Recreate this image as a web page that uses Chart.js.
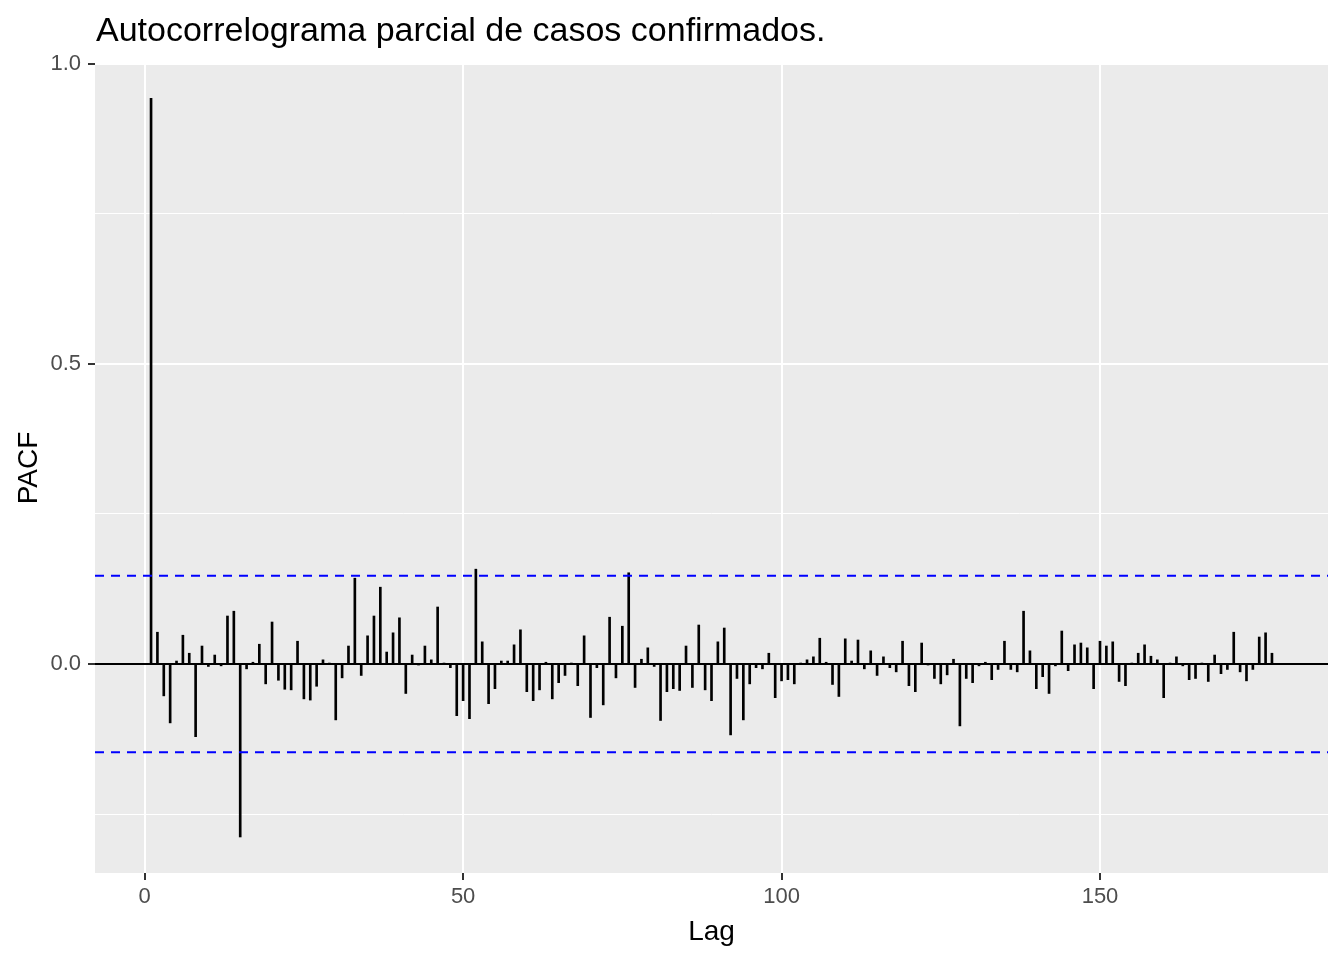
<!DOCTYPE html>
<html>
<head>
<meta charset="utf-8">
<script src="https://cdn.jsdelivr.net/npm/chart.js@4.4.1/dist/chart.umd.min.js"></script>
<style>
  html, body { margin: 0; padding: 0; background: #fff; }
  canvas { display: block; }
</style>
</head>
<body>
<canvas id="pacf" width="1344" height="960"></canvas>
<script>
// partial autocorrelation by lag (lag 1 .. 177)
const pacf = [
  0.942, 0.053, -0.053, -0.098, 0.005, 0.048, 0.018, -0.121, 0.030, -0.004,
  0.015, -0.003, 0.080, 0.088, -0.288, -0.008, 0.003, 0.033, -0.033, 0.070,
  -0.027, -0.042, -0.043, 0.038, -0.058, -0.060, -0.037, 0.007, 0.001, -0.093,
  -0.023, 0.030, 0.143, -0.019, 0.047, 0.080, 0.128, 0.020, 0.052, 0.077,
  -0.049, 0.015, -0.001, 0.030, 0.007, 0.095, 0.001, -0.006, -0.086, -0.061,
  -0.091, 0.158, 0.037, -0.066, -0.041, 0.005, 0.005, 0.032, 0.057, -0.046,
  -0.061, -0.043, 0.003, -0.058, -0.031, -0.019, 0.001, -0.036, 0.047, -0.089,
  -0.006, -0.068, 0.078, -0.023, 0.063, 0.152, -0.039, 0.008, 0.027, -0.004,
  -0.094, -0.046, -0.041, -0.044, 0.030, -0.039, 0.065, -0.043, -0.061, 0.037,
  0.060, -0.118, -0.024, -0.093, -0.033, -0.006, -0.008, 0.018, -0.056, -0.028,
  -0.026, -0.033, 0.001, 0.007, 0.012, 0.043, 0.003, -0.034, -0.054, 0.042,
  0.005, 0.040, -0.008, 0.022, -0.019, 0.012, -0.006, -0.013, 0.038, -0.036,
  -0.046, 0.035, -0.001, -0.024, -0.033, -0.018, 0.008, -0.103, -0.024, -0.031,
  -0.003, 0.003, -0.026, -0.009, 0.038, -0.009, -0.013, 0.088, 0.022, -0.041,
  -0.021, -0.049, -0.003, 0.055, -0.011, 0.032, 0.035, 0.027, -0.041, 0.038,
  0.030, 0.037, -0.029, -0.036, 0.001, 0.018, 0.032, 0.013, 0.007, -0.056,
  0.001, 0.012, -0.003, -0.026, -0.024, 0.001, -0.029, 0.015, -0.016, -0.009,
  0.053, -0.013, -0.028, -0.009, 0.045, 0.052, 0.018
];
const lags = pacf.map((_, i) => i + 1);

// significance band (dashed blue lines)
const conf = 0.147;

const xTicks = [0, 50, 100, 150];
const yTicks = [-0.25, 0, 0.25, 0.5, 0.75, 1.0];
const yMajor = [0, 0.5, 1.0];

const xMin = -7.8, xMax = 185.8;
const yMin = -0.348, yMax = 1.001;

const FONT = '"Liberation Sans", Arial, sans-serif';
const isMajor = v => yMajor.some(m => Math.abs(m - v) < 1e-9);

const panelBg = {
  id: 'panelBg',
  beforeDraw(chart) {
    const { ctx, chartArea: a } = chart;
    ctx.save();
    ctx.fillStyle = '#EBEBEB';
    ctx.fillRect(a.left, a.top, a.right - a.left, a.bottom - a.top);
    ctx.restore();
  }
};

const labels = {
  id: 'labels',
  afterDraw(chart) {
    const { ctx, chartArea: a } = chart;
    ctx.save();
    ctx.fillStyle = '#000';
    ctx.textBaseline = 'alphabetic';

    ctx.font = '34px ' + FONT;
    ctx.textAlign = 'left';
    ctx.fillText('Autocorrelograma parcial de casos confirmados.', 96, 41);

    ctx.font = '28px ' + FONT;
    ctx.textAlign = 'center';
    ctx.fillText('Lag', (a.left + a.right) / 2, 940);

    ctx.translate(37, (a.top + a.bottom) / 2);
    ctx.rotate(-Math.PI / 2);
    ctx.fillText('PACF', 0, 0);
    ctx.restore();
  }
};

const hline = (y, color, dash) => ({
  type: 'line',
  data: [{ x: xMin, y: y }, { x: xMax, y: y }],
  borderColor: color,
  borderWidth: 2,
  borderDash: dash,
  pointRadius: 0,
  fill: false,
  tension: 0
});

new Chart(document.getElementById('pacf'), {
  type: 'bar',
  data: {
    datasets: [
      hline(conf, '#0000FF', [9, 7]),
      hline(-conf, '#0000FF', [9, 7]),
      hline(0, '#000000', []),
      {
        type: 'bar',
        data: lags.map((l, i) => ({ x: l, y: pacf[i] })),
        backgroundColor: '#000',
        borderWidth: 0,
        barThickness: 2
      }
    ]
  },
  options: {
    responsive: false,
    animation: false,
    devicePixelRatio: 1,
    layout: { padding: { top: 63, right: 16, left: 0, bottom: 0 } },
    plugins: {
      legend: { display: false },
      tooltip: { enabled: false },
      title: { display: false }
    },
    scales: {
      x: {
        type: 'linear',
        min: xMin,
        max: xMax,
        offset: false,
        afterBuildTicks: s => { s.ticks = xTicks.map(v => ({ value: v })); },
        afterFit: s => { s.height = 87; },
        border: { display: false },
        grid: {
          offset: false,
          color: '#FFFFFF',
          lineWidth: 2,
          tickColor: '#333333',
          tickLength: 7
        },
        ticks: {
          color: '#4D4D4D',
          font: { size: 22, family: FONT },
          padding: 4,
          maxRotation: 0,
          autoSkip: false,
          callback: v => String(v)
        }
      },
      y: {
        min: yMin,
        max: yMax,
        afterBuildTicks: s => { s.ticks = yTicks.map(v => ({ value: v })); },
        afterFit: s => { s.width = 95; },
        border: { display: false },
        grid: {
          color: '#FFFFFF',
          lineWidth: c => (c.tick && isMajor(c.tick.value)) ? 2 : 1,
          tickColor: c => (c.tick && isMajor(c.tick.value)) ? '#333333' : 'rgba(0,0,0,0)',
          tickLength: 7
        },
        ticks: {
          color: '#4D4D4D',
          font: { size: 22, family: FONT },
          padding: 7,
          autoSkip: false,
          callback: v => isMajor(v) ? v.toFixed(1) : ''
        }
      }
    }
  },
  plugins: [panelBg, labels]
});
</script>
</body>
</html>
